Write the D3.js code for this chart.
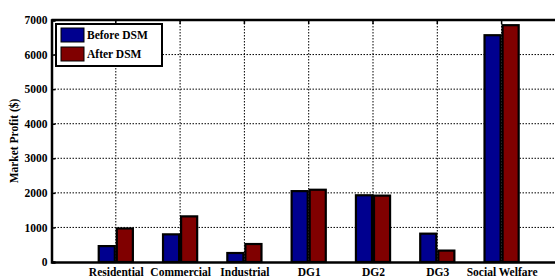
<!DOCTYPE html>
<html lang="en">
<head>
  <meta charset="UTF-8">
  <title>Market Profit</title>
  <script src="https://d3js.org/d3.v7.min.js"></script>
  <style>
    body, html { margin: 0; padding: 0; background: #fff; overflow: hidden; }
    text { font-family: "Liberation Serif", "Times New Roman", serif; font-weight: bold; fill: #000; }
  </style>
</head>
<body>
  <svg id="chart" width="555" height="278"></svg>
  <script>
    // Data
    const categories = ['Residential', 'Commercial', 'Industrial', 'DG1', 'DG2', 'DG3', 'Social Welfare'];
    const beforeDSM = [460, 800, 260, 2050, 1930, 820, 6560];
    const afterDSM = [970, 1320, 520, 2090, 1920, 330, 6850];
    const yTicks = [0, 1000, 2000, 3000, 4000, 5000, 6000, 7000];
    const seriesNames = ['Before DSM', 'After DSM'];
    const colors = ['#00008f', '#800000'];

    const svg = d3.select('#chart');
    const plotLeft = 51.5, plotTop = 20, plotBottom = 262;
    const plotRight = plotLeft + 8 * 64.3; // plot runs past the window edge
    const fs = 11.5;

    const x = d3.scaleLinear().domain([0, 8]).range([plotLeft, plotRight]);
    const y = d3.scaleLinear().domain([0, 7000]).range([plotBottom, plotTop]);

    // Grid lines
    const grid = svg.append('g').attr('stroke', '#000').attr('stroke-width', 1).attr('stroke-dasharray', '1.5,1.5');
    grid.selectAll('.hg').data(yTicks.slice(1, -1)).enter().append('line')
      .attr('x1', plotLeft).attr('x2', plotRight).attr('y1', d => y(d)).attr('y2', d => y(d));
    grid.selectAll('.vg').data(categories).enter().append('line')
      .attr('x1', (d, i) => x(i + 1)).attr('x2', (d, i) => x(i + 1))
      .attr('y1', plotTop).attr('y2', plotBottom);

    // Bars
    const bw = 0.25;
    [beforeDSM, afterDSM].forEach((vals, s) => {
      svg.append('g').selectAll('rect').data(vals).enter().append('rect')
        .attr('x', (d, i) => x(i + 1 + (s === 0 ? -bw : 0)) + (s === 0 ? -1 : 1))
        .attr('width', x(bw) - x(0))
        .attr('y', d => y(d))
        .attr('height', d => y(0) - y(d))
        .attr('fill', colors[s])
        .attr('stroke', '#000').attr('stroke-width', 2.2);
    });

    // Axes
    const yAxis = d3.axisLeft(y).tickValues(yTicks).tickSize(-4).tickPadding(4).tickFormat(d3.format('d'));
    const gy = svg.append('g').attr('transform', `translate(${plotLeft},0)`).call(yAxis);
    gy.select('.domain').attr('stroke-width', 2.5);
    gy.selectAll('.tick line').attr('stroke-width', 1.5);
    gy.selectAll('text').attr('font-size', fs);

    const xAxis = d3.axisBottom(x).tickValues(d3.range(1, 8)).tickSize(0).tickPadding(6)
      .tickFormat(d => categories[d - 1]);
    const gx = svg.append('g').attr('transform', `translate(0,${plotBottom})`).call(xAxis);
    gx.select('.domain').attr('stroke-width', 2.5);
    gx.selectAll('text').attr('font-size', fs);

    // top border with ticks
    svg.append('line').attr('x1', plotLeft).attr('x2', plotRight).attr('y1', plotTop).attr('y2', plotTop)
      .attr('stroke', '#000').attr('stroke-width', 2.5);
    svg.append('g').selectAll('line').data(categories).enter().append('line')
      .attr('x1', (d, i) => x(i + 1)).attr('x2', (d, i) => x(i + 1))
      .attr('y1', plotTop).attr('y2', plotTop + 4).attr('stroke', '#000').attr('stroke-width', 1.5);

    // Y label
    svg.append('text').attr('transform', `translate(18,${(plotTop + plotBottom) / 2}) rotate(-90)`)
      .attr('text-anchor', 'middle').attr('font-size', fs).text('Market Profit ($)');

    // Legend
    const lg = svg.append('g').attr('transform', 'translate(56,24)');
    lg.append('rect').attr('width', 106).attr('height', 42).attr('fill', '#fff')
      .attr('stroke', '#000').attr('stroke-width', 2);
    seriesNames.forEach((n, i) => {
      lg.append('rect').attr('x', 5).attr('y', 4 + i * 19).attr('width', 23).attr('height', 14)
        .attr('fill', colors[i]).attr('stroke', '#000').attr('stroke-width', 1);
      lg.append('text').attr('x', 31).attr('y', 15 + i * 19).attr('font-size', fs).text(n);
    });
  </script>
</body>
</html>
